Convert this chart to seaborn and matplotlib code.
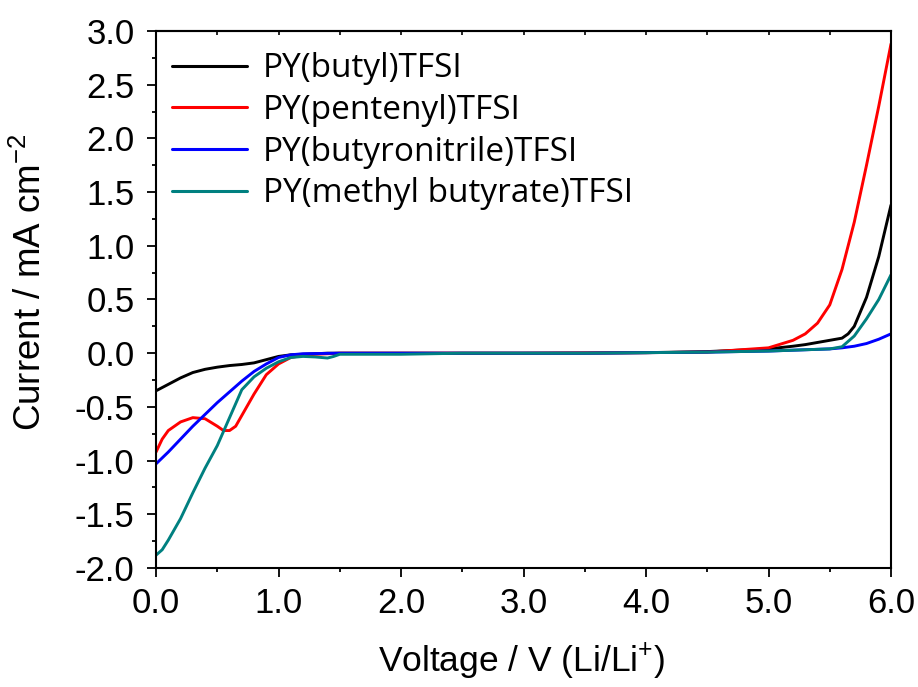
import numpy as np
import pandas as pd
import matplotlib
matplotlib.use("Agg")
import matplotlib.pyplot as plt
import seaborn as sns
from matplotlib.ticker import MultipleLocator, FormatStrFormatter

names = ["PY(butyl)TFSI", "PY(pentenyl)TFSI", "PY(butyronitrile)TFSI", "PY(methyl butyrate)TFSI"]
colors = ["#000000", "#FF0000", "#0000FF", "#008080"]

v_butyl = [0, 0.1, 0.2, 0.3, 0.4, 0.5, 0.6, 0.7, 0.8, 0.9, 1.0, 1.1, 1.2, 1.3, 1.4, 1.5, 2.0, 2.5, 3.0, 3.5, 4.0, 4.5, 5.0, 5.2, 5.3, 5.4, 5.5, 5.6, 5.65, 5.7, 5.8, 5.9, 6.0]
i_butyl = [-0.35, -0.29, -0.23, -0.18, -0.15, -0.13, -0.115, -0.105, -0.09, -0.06, -0.03, -0.015, -0.01, -0.005, 0.0, 0.0, 0.0, 0.0, 0.0, 0.002, 0.005, 0.015, 0.04, 0.065, 0.08, 0.1, 0.12, 0.14, 0.18, 0.25, 0.52, 0.9, 1.38]

v_pent = [0, 0.05, 0.1, 0.2, 0.3, 0.4, 0.5, 0.55, 0.6, 0.65, 0.7, 0.8, 0.9, 1.0, 1.1, 1.2, 1.3, 1.5, 2.0, 2.5, 3.0, 3.5, 4.0, 4.5, 5.0, 5.2, 5.3, 5.4, 5.5, 5.6, 5.7, 5.8, 5.9, 6.0]
i_pent = [-0.92, -0.8, -0.72, -0.64, -0.6, -0.61, -0.68, -0.72, -0.72, -0.68, -0.58, -0.38, -0.2, -0.1, -0.04, -0.02, -0.01, 0.0, 0.0, 0.0, 0.0, 0.002, 0.005, 0.01, 0.05, 0.12, 0.18, 0.28, 0.45, 0.78, 1.22, 1.75, 2.3, 2.88]

v_nitr = [0, 0.1, 0.2, 0.3, 0.4, 0.5, 0.6, 0.7, 0.8, 0.9, 1.0, 1.1, 1.2, 1.5, 2.0, 2.5, 3.0, 3.5, 4.0, 4.5, 5.0, 5.5, 5.6, 5.7, 5.8, 5.9, 6.0]
i_nitr = [-1.03, -0.92, -0.8, -0.68, -0.57, -0.46, -0.36, -0.26, -0.17, -0.1, -0.04, -0.015, -0.005, 0.0, 0.0, 0.0, 0.0, 0.0, 0.005, 0.01, 0.02, 0.04, 0.05, 0.065, 0.09, 0.13, 0.18]

v_ester = [0, 0.05, 0.1, 0.2, 0.3, 0.4, 0.5, 0.6, 0.7, 0.8, 0.9, 1.0, 1.1, 1.2, 1.3, 1.4, 1.45, 1.5, 2.0, 2.5, 3.0, 3.5, 4.0, 4.5, 5.0, 5.5, 5.6, 5.7, 5.8, 5.9, 6.0]
i_ester = [-1.88, -1.83, -1.74, -1.54, -1.3, -1.07, -0.86, -0.6, -0.34, -0.22, -0.14, -0.08, -0.04, -0.03, -0.035, -0.045, -0.03, -0.01, -0.01, 0.0, 0.0, 0.0, 0.005, 0.01, 0.02, 0.04, 0.06, 0.16, 0.32, 0.5, 0.73]

series_v = [v_butyl, v_pent, v_nitr, v_ester]
series_i = [i_butyl, i_pent, i_nitr, i_ester]

frames = []
for n, v, i in zip(names, series_v, series_i):
    frames.append(pd.DataFrame({"V": v, "I": i, "Sample": n}))
df = pd.concat(frames, ignore_index=True)

sns.set_style("white")
plt.rcParams['font.family'] = ['Liberation Sans', 'DejaVu Sans']
plt.rcParams['mathtext.fontset'] = 'custom'
plt.rcParams['mathtext.rm'] = 'Liberation Sans'
plt.rcParams['mathtext.it'] = 'Liberation Sans'
plt.rcParams['text.color'] = 'black'
plt.rcParams['axes.labelcolor'] = 'black'
plt.rcParams['xtick.color'] = 'black'
plt.rcParams['ytick.color'] = 'black'

fig = plt.figure(figsize=(9.18, 6.87), dpi=100)
ax = fig.add_axes([0.170, 0.1732, 0.8006, 0.7817])

sns.lineplot(data=df, x="V", y="I", hue="Sample", palette=dict(zip(names, colors)),
             sort=False, estimator=None, linewidth=2.1, ax=ax)

ax.set_xlim(0, 6)
ax.set_ylim(-2.0, 3.0)
ax.xaxis.set_major_locator(MultipleLocator(1.0))
ax.xaxis.set_minor_locator(MultipleLocator(0.5))
ax.yaxis.set_major_locator(MultipleLocator(0.5))
ax.yaxis.set_minor_locator(MultipleLocator(0.25))
ax.xaxis.set_major_formatter(FormatStrFormatter("%.1f"))
ax.yaxis.set_major_formatter(FormatStrFormatter("%.1f"))
ax.tick_params(axis="both", which="both", direction="out", labelsize=25,
               top=False, right=False, bottom=True, left=True)
ax.tick_params(axis="both", which="major", length=6.5, width=1.3)
ax.tick_params(axis="both", which="minor", length=3.2, width=1.3)
ax.tick_params(axis="x", which="major", pad=7)
ax.tick_params(axis="y", which="major", pad=9)
for s in ax.spines.values():
    s.set_linewidth(1.5)
    s.set_color("black")

top = ax.secondary_xaxis("top")
top.xaxis.set_major_locator(MultipleLocator(0.5))
top.tick_params(axis="x", which="major", direction="in", length=3, width=1.2, labeltop=False)
top.spines["top"].set_linewidth(1.5)

ax.set_xlabel("Voltage / V (Li/Li$^{+}$)", fontsize=25.5)
ax.set_ylabel("Current / mA cm$^{-2}$", fontsize=26.5)
ax.xaxis.set_label_coords(0.497, -0.137)
ax.yaxis.set_label_coords(-0.146, 0.532)

leg = ax.legend(loc="upper left", frameon=False, prop={"family": "Open Sans", "size": 24},
                handlelength=2.25, handletextpad=0.48, labelspacing=0.26,
                borderpad=0.4, borderaxespad=0.0, bbox_to_anchor=(0.003, 0.985))
for line in leg.get_lines():
    line.set_linewidth(2.2)

fig.savefig("out.png", dpi=100)
